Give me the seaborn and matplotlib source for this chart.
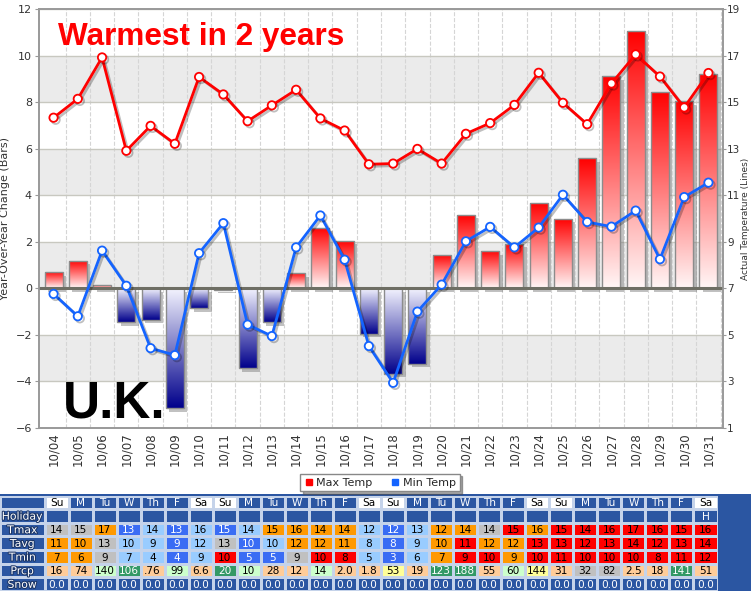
import numpy as np
import pandas as pd
import matplotlib
matplotlib.use("Agg")
import matplotlib.pyplot as plt
import matplotlib.patheffects as pe
import seaborn as sns
from matplotlib.colors import LinearSegmentedColormap, ListedColormap
from matplotlib.patches import Rectangle
from matplotlib.lines import Line2D
from matplotlib.ticker import FixedLocator

# ---- data ----
dates = ["10/04", "10/05", "10/06", "10/07", "10/08", "10/09", "10/10",
         "10/11", "10/12", "10/13", "10/14", "10/15", "10/16", "10/17",
         "10/18", "10/19", "10/20", "10/21", "10/22", "10/23", "10/24",
         "10/25", "10/26", "10/27", "10/28", "10/29", "10/30", "10/31"]

yoy_change = [0.69, 1.19, 0.14, -1.46, -1.36, -5.15, -0.85, -0.07, -3.43, -1.46,
              0.65, 2.60, 2.04, -1.96, -3.68, -3.23, 1.42, 3.17, 1.59, 1.91,
              3.66, 2.98, 5.58, 9.11, 11.06, 8.45, 8.04, 9.21]

max_temp = [14.33, 15.14, 16.92, 12.91, 13.98, 13.21, 16.08, 15.33, 14.18, 14.86,
            15.53, 14.30, 13.78, 12.33, 12.36, 12.99, 12.36, 13.64, 14.10, 14.88,
            16.26, 14.97, 14.05, 15.80, 17.05, 16.10, 14.77, 16.25]

min_temp = [6.76, 5.80, 8.62, 7.11, 4.43, 4.13, 8.51, 9.80, 5.44, 4.95,
            8.76, 10.13, 8.23, 4.52, 2.94, 6.00, 7.16, 9.02, 9.64, 8.76,
            9.61, 11.02, 9.85, 9.65, 10.34, 8.25, 10.92, 11.54]

# table below the chart
weekdays = ["Su", "M", "Tu", "W", "Th", "F", "Sa"] * 4
holiday = [""] * 27 + ["H"]
tmax = ["14", "15", "17", "13", "14", "13", "16", "15", "14", "15", "16", "14", "14", "12",
        "12", "13", "12", "14", "14", "15", "16", "15", "14", "16", "17", "16", "15", "16"]
tavg = ["11", "10", "13", "10", "9", "9", "12", "13", "10", "10", "12", "12", "11", "8",
        "8", "9", "10", "11", "12", "12", "13", "13", "12", "13", "14", "12", "13", "14"]
tmin = ["7", "6", "9", "7", "4", "4", "9", "10", "5", "5", "9", "10", "8", "5",
        "3", "6", "7", "9", "10", "9", "10", "11", "10", "10", "10", "8", "11", "12"]
prcp = ["16", "74", "140", "106", ".76", "99", "6.6", "20", "10", "28", "12", "14", "2.0", "1.8",
        "53", "19", "123", "188", "55", "60", "144", "31", "32", "82", "2.5", "18", "141", "51"]
snow = ["0.0"] * 28

tmax_cls = ["gray", "gray", "orange", "blue", "lblue", "blue", "lblue", "blue", "lblue", "orange",
            "orange", "orange", "orange", "lblue", "blue", "lblue", "orange", "orange", "gray", "red",
            "orange", "red", "red", "red", "red", "red", "red", "red"]
tavg_cls = ["orange", "orange", "gray", "lblue", "lblue", "blue", "lblue", "gray", "blue", "lblue",
            "orange", "orange", "orange", "lblue", "blue", "lblue", "orange", "red", "orange", "orange",
            "red", "red", "red", "red", "red", "red", "red", "red"]
tmin_cls = ["orange", "orange", "gray", "lblue", "lblue", "blue", "lblue", "red", "blue", "blue",
            "gray", "red", "red", "lblue", "blue", "lblue", "orange", "red", "red", "orange",
            "red", "red", "red", "red", "red", "red", "red", "red"]
prcp_cls = ["peach", "peach", "lgreen", "green", "peach", "lgreen", "peach", "green", "lgreen", "peach",
            "peach", "lgreen", "peach", "peach", "yellow", "peach", "green", "green", "peach", "lgreen",
            "yellow", "peach", "gray", "gray", "peach", "peach", "green", "peach"]

row_names = ["", "Holiday", "Tmax", "Tavg", "Tmin", "Prcp", "Snow"]

cell_colors = {"navy": "#2b56a2", "white": "#ffffff", "gray": "#c0c0c0", "orange": "#ff9900",
               "blue": "#3a6cf4", "lblue": "#99ccff", "red": "#ff0000", "peach": "#ffcc99",
               "lgreen": "#ccffcc", "green": "#339966", "yellow": "#ffff99"}
light_text = {"navy", "blue", "green"}

RED = "#ff0000"
BLUE = "#1464ff"

sns.set_style("white")
plt.rcParams["font.family"] = ["DejaVu Sans"]

W, H = 751, 591
fig = plt.figure(figsize=(W / 100, H / 100), dpi=100)

# ---- main chart ----
ax = fig.add_axes([39 / W, 1 - 428 / H, (723 - 39) / W, (428 - 9) / H])

df = pd.DataFrame({"date": dates, "change": yoy_change})
sns.barplot(data=df, x="date", y="change", ax=ax, width=0.74, errorbar=None,
            color="white", saturation=1)
bars = list(ax.patches)

red_cmap = LinearSegmentedColormap.from_list("r", ["#fff6f6", "#ff0000"])
blue_cmap = LinearSegmentedColormap.from_list("b", ["#00008b", "#f4f4ff"])
grad = np.linspace(0, 1, 256).reshape(-1, 1)
for p, v in zip(bars, yoy_change):
    p.set_facecolor("none")
    p.set_edgecolor("none")
    p.set_zorder(2)
    p.set_path_effects([pe.SimplePatchShadow(offset=(2.5, -2.5), shadow_rgbFace="#777777", alpha=0.45),
                        pe.Normal()])
    x0, w = p.get_x(), p.get_width()
    y0, h = p.get_y(), p.get_height()
    ylo, yhi = min(y0, y0 + h), max(y0, y0 + h)
    im = ax.imshow(grad, cmap=red_cmap if v > 0 else blue_cmap, origin="lower", aspect="auto",
                   extent=(x0, x0 + w, ylo, yhi), zorder=2.5)
    im.set_clip_path(p)
    ax.add_patch(Rectangle((x0, ylo), w, yhi - ylo, fill=False, ec="#8c8c8c", lw=1, zorder=2.6))

# alternating background bands
for lo in [-4, 0, 4, 8]:
    ax.axhspan(lo, lo + 2, color="#ebebeb", zorder=0, lw=0)

ax.axhline(0, color="#6e6e64", lw=2.2, zorder=3)
ax.set_xlim(-0.6, 27.6)
ax.set_ylim(-6, 12)
ax.set_yticks(range(-6, 13, 2))
ax.set_axisbelow(True)
ax.yaxis.grid(True, color="#c8c8c0", lw=1)
ax.xaxis.set_minor_locator(FixedLocator(np.arange(28) + 0.5))
ax.grid(which="minor", axis="x", ls="--", color="#d5d5d5", lw=0.8)
ax.tick_params(axis="x", which="major", rotation=90, labelsize=8.5, length=0, pad=3, labelcolor="#333333")
ax.tick_params(axis="x", which="minor", length=0)
ax.tick_params(axis="y", labelsize=8, length=3, color="#999999", labelcolor="#333333", pad=2)
ax.set_xlabel("")
ax.set_ylabel("Year-Over-Year Change (Bars)", fontsize=8, color="#333333", labelpad=4)

ax2 = ax.twinx()
x_pos = np.arange(len(dates))
line_fx = [pe.SimpleLineShadow(offset=(1.5, -1.5), alpha=0.25), pe.Normal()]
sns.lineplot(x=x_pos, y=max_temp, ax=ax2, color=RED, lw=2, marker="o", markersize=6,
             markerfacecolor="white", markeredgecolor=RED, markeredgewidth=1.3,
             legend=False, path_effects=line_fx, zorder=5)
sns.lineplot(x=x_pos, y=min_temp, ax=ax2, color=BLUE, lw=2, marker="o", markersize=6,
             markerfacecolor="white", markeredgecolor=BLUE, markeredgewidth=1.3,
             legend=False, path_effects=line_fx, zorder=5)
ax2.set_ylim(1, 19)
ax2.set_yticks(range(1, 20, 2))
ax2.set_xlim(-0.6, 27.6)
ax2.tick_params(axis="y", labelsize=7.5, length=2, color="#999999", labelcolor="#333333", pad=1)
ax2.set_ylabel("Actual Temperature (Lines)", fontsize=6.5, color="#333333")
ax2.yaxis.set_label_coords((741 - 39) / (723 - 39), 0.5)
for a in (ax, ax2):
    for s in a.spines.values():
        s.set_color("#999999")
        s.set_linewidth(1.2)

fig.text(58 / W, 1 - 45 / H, "Warmest in 2 years", color=RED, fontsize=22.7,
         fontweight="bold", family="Liberation Sans", va="baseline", zorder=10)
fig.text(63 / W, 1 - 417 / H, "U.K.", color="black", fontsize=37,
         fontweight="bold", family="Liberation Sans", va="baseline", zorder=10)

handles = [Line2D([], [], marker="s", ls="none", color=RED, markersize=5),
           Line2D([], [], marker="s", ls="none", color=BLUE, markersize=5)]
fig.legend(handles, ["Max Temp", "Min Temp"], loc="center", bbox_to_anchor=(380 / W, 1 - 482.5 / H),
           ncol=2, fontsize=8, frameon=True, fancybox=False, edgecolor="#888888", shadow=True,
           handlelength=0.8, handletextpad=0.3, columnspacing=1.6, borderpad=0.35)

# ---- data table ----
bg = fig.add_axes([0, 0, 1, 97 / H])
bg.set_facecolor(cell_colors["navy"])
bg.set_xticks([])
bg.set_yticks([])
for s in bg.spines.values():
    s.set_visible(False)

keys = list(cell_colors)
cmap_cells = ListedColormap([cell_colors[k] for k in keys])
header_cls = ["white" if d in ("Sa", "Su") else "navy" for d in weekdays]
row_cls = [header_cls, ["navy"] * 28, tmax_cls, tavg_cls, tmin_cls, prcp_cls, ["navy"] * 28]
row_txt = [weekdays, holiday, tmax, tavg, tmin, prcp, snow]
codes = np.array([[keys.index(c) for c in r] for r in row_cls])

tab_h = 95.5 / H
tab = fig.add_axes([44.5 / W, 0, 673 / W, tab_h])
sns.heatmap(codes, ax=tab, cmap=cmap_cells, vmin=-0.5, vmax=len(keys) - 0.5, cbar=False,
            linewidths=1, linecolor="#c5d3ea", xticklabels=False, yticklabels=False)
for i, (cls, txt) in enumerate(zip(row_cls, row_txt)):
    for j, (c, t) in enumerate(zip(cls, txt)):
        tab.text(j + 0.5, i + 0.55, t, ha="center", va="center", fontsize=7.6,
                 color="white" if c in light_text else "black")

lab = fig.add_axes([0, 0, 44.5 / W, tab_h])
sns.heatmap(np.zeros((7, 1)), ax=lab, cmap=ListedColormap([cell_colors["navy"]]), cbar=False,
            linewidths=1, linecolor="#c5d3ea", xticklabels=False, yticklabels=False)
for i, name in enumerate(row_names):
    lab.text(0.5, i + 0.55, name, ha="center", va="center", fontsize=7.8, color="white",
             path_effects=[pe.withStroke(linewidth=1.5, foreground="#1b3566")])

fig.savefig("out.png", dpi=100)
